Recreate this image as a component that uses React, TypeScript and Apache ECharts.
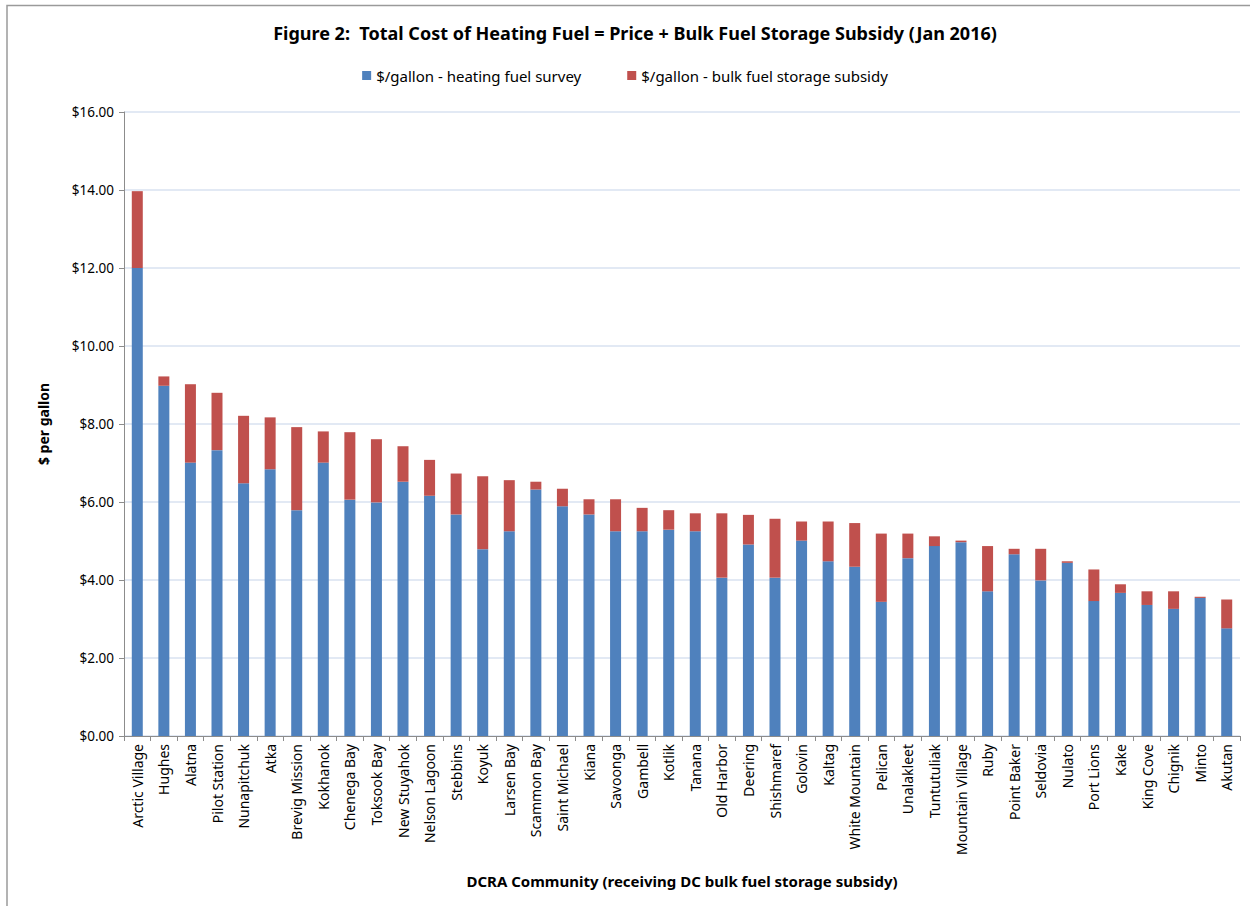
import React, { useEffect, useRef } from "react";
import * as echarts from "echarts";

const communities = [
  "Arctic Village", "Hughes", "Alatna", "Pilot Station", "Nunapitchuk", "Atka",
  "Brevig Mission", "Kokhanok", "Chenega Bay", "Toksook Bay", "New Stuyahok",
  "Nelson Lagoon", "Stebbins", "Koyuk", "Larsen Bay", "Scammon Bay", "Saint Michael",
  "Kiana", "Savoonga", "Gambell", "Kotlik", "Tanana", "Old Harbor", "Deering",
  "Shishmaref", "Golovin", "Kaltag", "White Mountain", "Pelican", "Unalakleet",
  "Tuntutuliak", "Mountain Village", "Ruby", "Point Baker", "Seldovia", "Nulato",
  "Port Lions", "Kake", "King Cove", "Chignik", "Minto", "Akutan",
];

const heatingFuelSurvey = [
  12.0, 8.98, 7.01, 7.33, 6.48, 6.84, 5.79, 7.01, 6.06, 5.99, 6.52,
  6.16, 5.68, 4.79, 5.25, 6.32, 5.89, 5.68, 5.25, 5.25, 5.29, 5.25,
  4.06, 4.91, 4.06, 5.01, 4.48, 4.34, 3.44, 4.56, 4.87, 4.97, 3.71,
  4.66, 3.99, 4.44, 3.46, 3.67, 3.36, 3.26, 3.54, 2.76,
];

const storageSubsidy = [
  1.97, 0.24, 2.01, 1.47, 1.73, 1.33, 2.13, 0.8, 1.73, 1.62, 0.91,
  0.92, 1.05, 1.87, 1.31, 0.2, 0.45, 0.39, 0.82, 0.6, 0.5, 0.46,
  1.65, 0.76, 1.51, 0.49, 1.02, 1.12, 1.75, 0.63, 0.25, 0.04, 1.16,
  0.14, 0.81, 0.04, 0.81, 0.22, 0.35, 0.45, 0.03, 0.74,
];

const seriesNames = [
  "$/gallon - heating fuel survey",
  "$/gallon - bulk fuel storage subsidy",
];

const FONT = "'Noto Sans', 'Open Sans', sans-serif";

export default function App() {
  const ref = useRef<HTMLDivElement>(null);

  useEffect(() => {
    if (!ref.current) return;
    const chart = echarts.init(ref.current, null, { renderer: "svg" });
    chart.setOption({
      animation: false,
      backgroundColor: "#ffffff",
      textStyle: { fontFamily: FONT },
      title: {
        text: "Figure 2:  Total Cost of Heating Fuel = Price + Bulk Fuel Storage Subsidy (Jan 2016)",
        left: 630,
        textAlign: "center",
        top: 19,
        textStyle: { fontSize: 18, fontWeight: "bold", color: "#000", fontFamily: FONT },
      },
      legend: {
        data: seriesNames,
        left: "center",
        top: 63,
        itemWidth: 9,
        itemHeight: 9,
        itemGap: 46,
        icon: "rect",
        textStyle: { fontSize: 15, color: "#000", fontFamily: FONT },
      },
      graphic: [
        {
          type: "rect",
          shape: { x: 7, y: 5.5, width: 1300, height: 950 },
          style: { fill: "none", stroke: "#9a9a9a", lineWidth: 1.5 },
          silent: true,
        },
      ],
      grid: { left: 124, right: 10, top: 112, bottom: 170, containLabel: false },
      xAxis: {
        type: "category",
        data: communities,
        name: "DCRA Community (receiving DC bulk fuel storage subsidy)",
        nameLocation: "middle",
        nameGap: 137,
        nameTextStyle: { fontSize: 15, fontWeight: "bold", color: "#000", fontFamily: FONT },
        axisLine: { lineStyle: { color: "#8c8c8c", width: 1 } },
        axisTick: { show: true, length: 5, lineStyle: { color: "#8c8c8c" } },
        axisLabel: { rotate: 90, fontSize: 14, color: "#000", interval: 0, margin: 8, fontFamily: FONT },
      },
      yAxis: {
        type: "value",
        min: 0,
        max: 16,
        interval: 2,
        name: "$ per gallon",
        nameLocation: "middle",
        nameGap: 74,
        nameTextStyle: { fontSize: 14, fontWeight: "bold", color: "#000", fontFamily: FONT },
        axisLine: { show: true, lineStyle: { color: "#8c8c8c", width: 1 } },
        axisTick: { show: true, length: 5, lineStyle: { color: "#8c8c8c" } },
        axisLabel: {
          fontSize: 13.5,
          color: "#000",
          margin: 10,
          fontFamily: FONT,
          formatter: (v: number) => "$" + v.toFixed(2),
        },
        splitLine: { show: true, lineStyle: { color: "#d9e2f0", width: 1.5 } },
      },
      series: [
        {
          name: seriesNames[0],
          type: "bar",
          stack: "total",
          data: heatingFuelSurvey,
          barWidth: 11,
          itemStyle: { color: "#4f81bd" },
        },
        {
          name: seriesNames[1],
          type: "bar",
          stack: "total",
          data: storageSubsidy,
          barWidth: 11,
          itemStyle: { color: "#c0504d" },
        },
      ],
    });
    return () => chart.dispose();
  }, []);

  return (
    <div style={{ position: "fixed", left: 0, top: 0, width: 1250, height: 906, background: "#fff" }}>
      <div ref={ref} style={{ width: 1250, height: 906 }} />
    </div>
  );
}
